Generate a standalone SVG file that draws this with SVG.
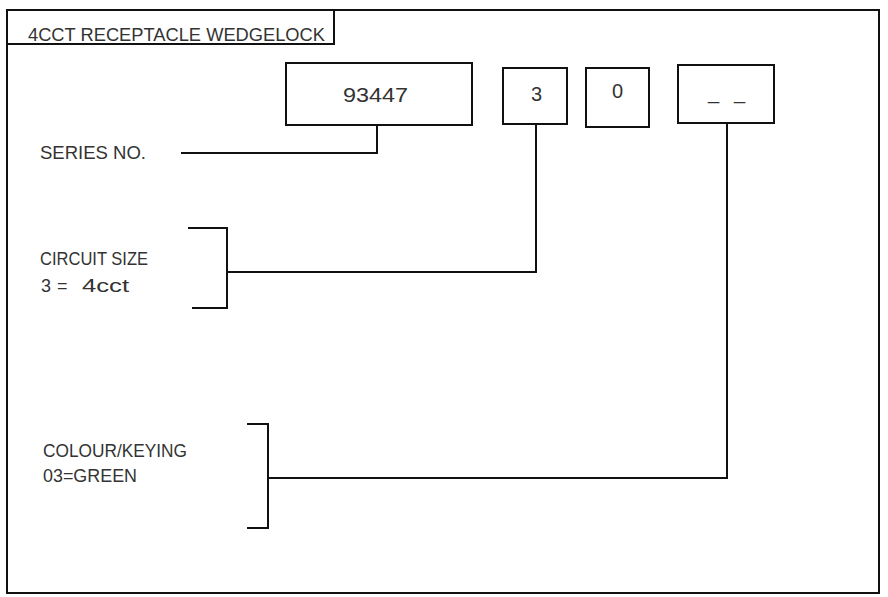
<svg xmlns="http://www.w3.org/2000/svg" width="888" height="597" viewBox="0 0 888 597">
<style>
.ln{fill:none;stroke:#111;stroke-width:2;stroke-linecap:square}
.bx{fill:#fff;stroke:#111;stroke-width:2}
.t{font-family:"Liberation Sans",Arial,sans-serif;font-size:18px;fill:#333}
.d{font-family:"Liberation Sans",Arial,sans-serif;font-size:20px;fill:#333}
</style>
<rect width="888" height="597" fill="#fff"/>
<g id="frame">
<rect class="bx" x="7" y="10" width="872" height="583"/>
<rect class="bx" x="7" y="10" width="327" height="34"/>
<text class="t" x="28" y="41" textLength="297" lengthAdjust="spacingAndGlyphs">4CCT RECEPTACLE WEDGELOCK</text>
</g>
<g id="connectors">
<polyline class="ln" points="377,125 377,153 182,153"/>
<polyline class="ln" points="536,124 536,272 227,272"/>
<polyline class="ln" points="189,228 227,228 227,308 193,308"/>
<polyline class="ln" points="727,123 727,478 268,478"/>
<polyline class="ln" points="248,424 268,424 268,528 248,528"/>
</g>
<g id="node-series-box">
<rect class="bx" x="286" y="63" width="186" height="62"/>
<text class="d" x="343" y="102" textLength="65" lengthAdjust="spacingAndGlyphs">93447</text>
</g>
<g id="node-circuit-box">
<rect class="bx" x="503" y="68" width="64" height="56"/>
<text class="d" x="531" y="101">3</text>
</g>
<g id="node-zero-box">
<rect class="bx" x="586" y="68" width="63" height="59"/>
<text class="d" x="612" y="98">0</text>
</g>
<g id="node-colour-box">
<rect class="bx" x="678" y="65" width="96" height="58"/>
<text class="d" x="708" y="99" textLength="37" lengthAdjust="spacing">_ _</text>
</g>
<g id="label-series">
<text class="t" x="40" y="159" textLength="106" lengthAdjust="spacingAndGlyphs">SERIES NO.</text>
</g>
<g id="label-circuit">
<text class="t" x="40" y="265" textLength="108" lengthAdjust="spacingAndGlyphs">CIRCUIT SIZE</text>
<text class="t" y="292"><tspan x="41">3</tspan> <tspan x="57">=</tspan> <tspan x="82" textLength="47" lengthAdjust="spacingAndGlyphs">4cct</tspan></text>
</g>
<g id="label-colour">
<text class="t" x="43" y="457" textLength="144" lengthAdjust="spacingAndGlyphs">COLOUR/KEYING</text>
<text class="t" x="43" y="482" textLength="94" lengthAdjust="spacingAndGlyphs">03=GREEN</text>
</g>
</svg>
